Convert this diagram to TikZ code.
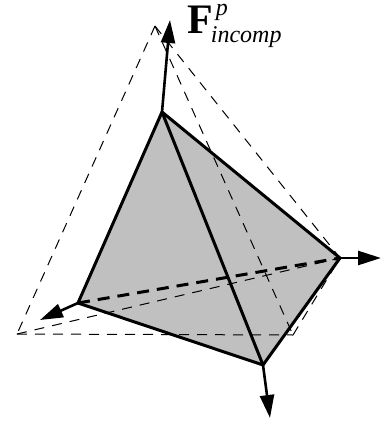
\documentclass[tikz,border=0pt]{standalone}
\usepackage{fontspec}
\setmainfont{Liberation Serif}
\usetikzlibrary{arrows.meta}
\definecolor{FaceGray}{RGB}{192,192,192}

\begin{document}
\begin{tikzpicture}[x=1pt, y=-1pt,
	fl/.style={-{Triangle[length=23pt, width=14pt]}, line width=2.6pt},
	edg/.style={line width=3pt, line join=round, line cap=round},
	thin dash/.style={line width=1pt, dash pattern=on 10pt off 8pt},
	thick dash/.style={line width=3pt, dash pattern=on 12pt off 8pt}]

	\useasboundingbox (0,0) rectangle (381,423);

	% ---------- vertices ----------
	\coordinate (a) at (162,112);
	\coordinate (b) at (340,258);
	\coordinate (c) at (263,365);
	\coordinate (d) at (78,303);

	\coordinate (p) at (155,26);
	\coordinate (q) at (17,334);
	\coordinate (s) at (293,335);

	\coordinate (fa) at (170,20);
	\coordinate (fb) at (381,258);
	\coordinate (fc) at (270,418);
	\coordinate (fd) at (40,320);

	% ---------- face ----------
	\fill[FaceGray] (a) -- (b) -- (c) -- (d) -- cycle;

	% ---------- dashed outer shape ----------
	\draw[thin dash] (p) -- (q);
	\draw[thin dash] (q) -- (s);
	\draw[thin dash] (q) -- (b);
	\draw[thin dash] (p) -- (b);
	\draw[thin dash] (p) -- (s);
	\draw[thin dash] (s) -- (b);

	% ---------- edges ----------
	\draw[thick dash] (d) -- (b);
	\draw[edg] (a) -- (b) -- (c) -- (d) -- cycle;
	\draw[edg] (a) -- (c);

	% ---------- forces ----------
	\draw[fl] (a) -- (fa);
	\draw[fl] (b) -- (fb);
	\draw[fl] (c) -- (fc);
	\draw[fl] (d) -- (fd);

	\node[anchor=base west, inner sep=0pt] (lab) at (187,34)
		{\fontsize{42}{42}\selectfont\bfseries F\kern-2pt\rlap{\raisebox{19pt}{\fontsize{24}{24}\selectfont\mdseries\itshape\kern5pt p}}\raisebox{-9pt}{\fontsize{24}{24}\selectfont\mdseries\itshape incomp}};
\end{tikzpicture}
\end{document}
